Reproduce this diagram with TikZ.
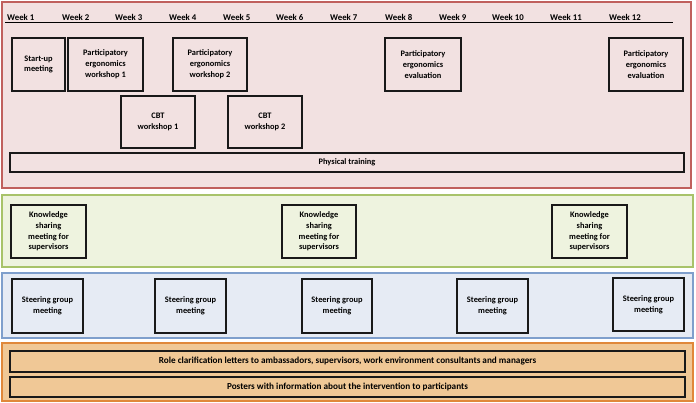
\documentclass[tikz,border=0pt]{standalone}
\usepackage{fontspec}
\setmainfont{Carlito}
\definecolor{redfill}{HTML}{F2E1E1}
\definecolor{redline}{HTML}{C0605D}
\definecolor{greenfill}{HTML}{EEF3DF}
\definecolor{greenline}{HTML}{A8C36A}
\definecolor{bluefill}{HTML}{E6EBF4}
\definecolor{blueline}{HTML}{7F9FCC}
\definecolor{orangefill}{HTML}{F0C896}
\definecolor{orangeline}{HTML}{E0883A}
\tikzset{
  panel/.style={line width=1.4pt},
  box/.style={draw=black!90, line width=1.4pt, align=center, inner sep=1pt,
    font=\fontsize{8.4}{10.8}\selectfont\bfseries},
  wide/.style={box, font=\fontsize{9.2}{11}\selectfont\bfseries},
  sq/.style={box, minimum width=74pt, minimum height=53pt},
  wk/.style={anchor=base west, inner sep=0pt, font=\fontsize{8.8}{10}\selectfont\bfseries},
}
\begin{document}
\begin{tikzpicture}[x=1pt,y=-1pt]
\useasboundingbox (0,0) rectangle (696,403);
% panels
\draw[panel, draw=redline, fill=redfill] (2,2) rectangle (691,188);
\draw[panel, draw=greenline, fill=greenfill] (2,195) rectangle (693,267);
\draw[panel, draw=blueline, fill=bluefill] (2,273) rectangle (693,338);
\draw[panel, draw=orangeline, fill=orangefill] (2,343) rectangle (693,401);
% week axis
\coordinate (axl) at (5,22.5);
\coordinate (axr) at (673,22.5);
\draw[line width=0.8pt] (axl) -- (axr);
\node[wk] (w1) at (7,20.5) {Week 1};
\node[wk] (w2) at (62,20.5) {Week 2};
\node[wk] (w3) at (115,20.5) {Week 3};
\node[wk] (w4) at (169,20.5) {Week 4};
\node[wk] (w5) at (223,20.5) {Week 5};
\node[wk] (w6) at (276,20.5) {Week 6};
\node[wk] (w7) at (330,20.5) {Week 7};
\node[wk] (w8) at (385,20.5) {Week 8};
\node[wk] (w9) at (439,20.5) {Week 9};
\node[wk] (w10) at (492,20.5) {Week 10};
\node[wk] (w11) at (550,20.5) {Week 11};
\node[wk] (w12) at (609,20.5) {Week 12};
% red panel boxes
\node[sq, minimum width=53pt] (start) at (38.5,64.5) {Start-up\\meeting};
\node[sq, minimum width=75pt] (pe1) at (105.5,64.5) {Participatory\\ergonomics\\workshop 1};
\node[sq] (pe2) at (210,64.5) {Participatory\\ergonomics\\workshop 2};
\node[sq, minimum height=52pt] (cbt1) at (158,122) {CBT\\workshop 1};
\node[sq, minimum height=52pt] (cbt2) at (265,122) {CBT\\workshop 2};
\node[sq, minimum width=76pt] (pev1) at (423,64.5) {Participatory\\ergonomics\\evaluation};
\node[sq] (pev2) at (646,64.5) {Participatory\\ergonomics\\evaluation};
\node[box, minimum width=674pt, minimum height=19pt] (phys) at (347,162.5) {Physical training};
% green panel boxes
\node[sq, minimum width=75pt] (ks1) at (48.5,231.5) {Knowledge\\sharing\\meeting for\\supervisors};
\node[sq] (ks2) at (319,231.5) {Knowledge\\sharing\\meeting for\\supervisors};
\node[sq, minimum width=75pt] (ks3) at (589.5,231.5) {Knowledge\\sharing\\meeting for\\supervisors};
% blue panel boxes
\node[sq, minimum width=71pt, minimum height=54pt] (sg1) at (47.5,306) {Steering group\\meeting};
\node[sq, minimum width=71pt, minimum height=54pt] (sg2) at (190.5,306) {Steering group\\meeting};
\node[sq, minimum width=70pt, minimum height=54pt] (sg3) at (337,306) {Steering group\\meeting};
\node[sq, minimum width=71pt, minimum height=54pt] (sg4) at (492.5,306) {Steering group\\meeting};
\node[sq, minimum width=71pt, minimum height=53pt] (sg5) at (648.5,304.5) {Steering group\\meeting};
% orange panel boxes
\node[wide, minimum width=675pt, minimum height=21pt] (role) at (347.5,361.5) {Role clarification letters to ambassadors, supervisors, work environment consultants and managers};
\node[wide, minimum width=675pt, minimum height=20pt] (post) at (347.5,387) {Posters with information about the intervention to participants};
\end{tikzpicture}
\end{document}
